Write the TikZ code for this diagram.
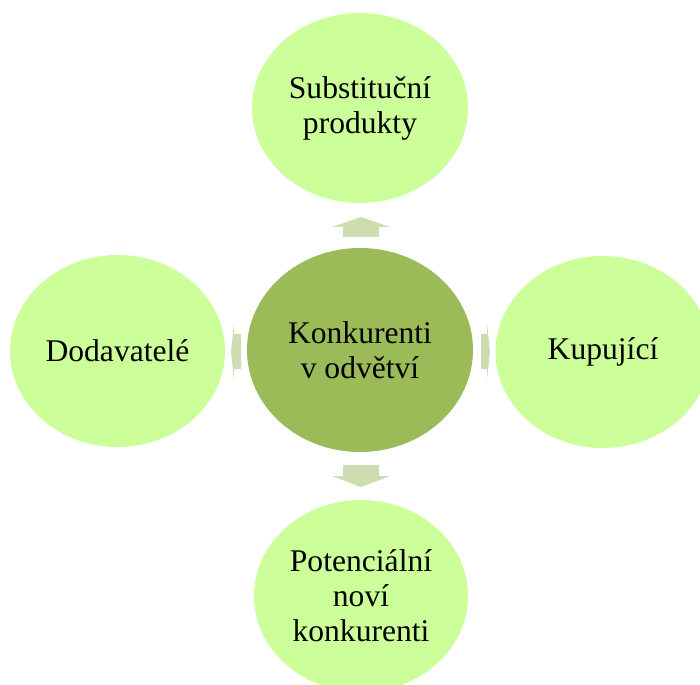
\documentclass[tikz,border=0pt]{standalone}
\usepackage{fontspec}
\setmainfont{Liberation Serif}
\usetikzlibrary{shapes.geometric}
\definecolor{outerg}{RGB}{204,255,153}
\definecolor{centerg}{RGB}{155,187,89}
\definecolor{arrowg}{RGB}{205,221,177}
\tikzset{
  outer/.style={ellipse, fill=outerg, draw=none, inner sep=0pt, align=center,
    font=\fontsize{31.6}{35}\selectfont},
  middle/.style={ellipse, fill=centerg, draw=none, inner sep=0pt, align=center,
    font=\fontsize{31.6}{35}\selectfont},
  blockarrow/.style={fill=arrowg, draw=none}
}
\begin{document}
\begin{tikzpicture}[x=1pt,y=-1pt]
\clip (0,0) rectangle (700,684);
\fill[white] (0,0) rectangle (700,684);
\node[middle, minimum width=226pt, minimum height=204pt] (c) at (360,350) {Konkurenti\\v odvětví};
\node[outer, minimum width=216pt, minimum height=190pt] (t) at (360,108) {Substituční\\produkty};
\node[outer, minimum width=215pt, minimum height=192pt] (l) at (117.5,351) {Dodavatelé};
\node[outer, minimum width=215pt, minimum height=192pt] (r) at (603,352) {Kupující};
\node[outer, minimum width=214pt, minimum height=192pt] (b) at (361,596) {Potenciální\\noví\\konkurenti};
% block arrows
\fill[blockarrow] (343,237) -- (343,227) -- (332,227) -- (361,217) -- (390,227) -- (379,227) -- (379,237) -- cycle;
\fill[blockarrow] (343,465) -- (343,476) -- (332,476) -- (361,487) -- (390,476) -- (379,476) -- (379,465) -- cycle;
\fill[blockarrow] (241,334) -- (234,334) -- (234,323) -- (231,351.5) -- (234,380) -- (234,369) -- (241,369) -- cycle;
\fill[blockarrow] (481,334) -- (487,334) -- (487,323) -- (490,351.5) -- (487,380) -- (487,369) -- (481,369) -- cycle;
\end{tikzpicture}
\end{document}
